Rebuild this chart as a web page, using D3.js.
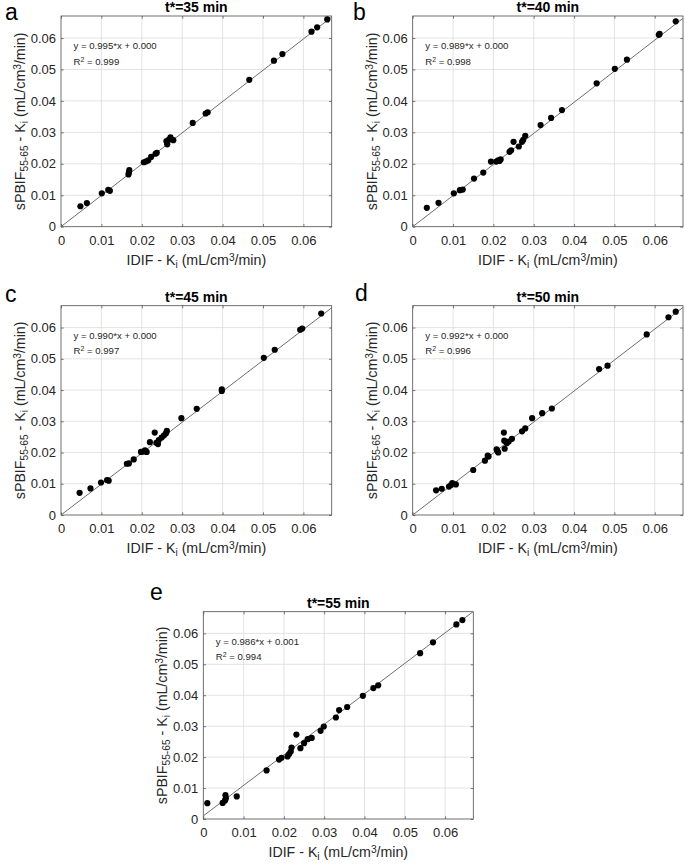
<!DOCTYPE html>
<html><head><meta charset="utf-8">
<script src="https://cdn.jsdelivr.net/npm/d3@7"></script>
<style>html,body{margin:0;padding:0;background:#fff}</style>
</head><body>
<svg id="chart" width="685" height="867" xmlns="http://www.w3.org/2000/svg"></svg>
<script>
// ---------- data ----------
const tickValues = [0, 0.01, 0.02, 0.03, 0.04, 0.05, 0.06];
const tickLabels = ["0", "0.01", "0.02", "0.03", "0.04", "0.05", "0.06"];
const axisMax = 0.067;

const panelLetters = ["a", "b", "c", "d", "e"];
const panelTitles = ["t*=35 min", "t*=40 min", "t*=45 min", "t*=50 min", "t*=55 min"];
const fitSlopes = [0.995, 0.989, 0.990, 0.992, 0.986];
const fitIntercepts = [0.000, 0.000, 0.000, 0.000, 0.001];
const fitSlopeText = ["0.995", "0.989", "0.990", "0.992", "0.986"];
const fitInterceptText = ["0.000", "0.000", "0.000", "0.000", "0.001"];
const fitR2Text = ["0.999", "0.998", "0.997", "0.996", "0.994"];

const idif35 = [0.0048,0.0064,0.0101,0.0117,0.0121,0.0167,0.0168,0.0169,0.0205,0.0211,0.0216,0.0223,0.0234,0.0237,0.0261,0.0263,0.0267,0.0271,0.0278,0.0326,0.0358,0.0363,0.0466,0.0527,0.0548,0.0620,0.0634,0.0659];
const pbif35 = [0.0065,0.0075,0.0106,0.0117,0.0114,0.0166,0.0172,0.0180,0.0205,0.0208,0.0211,0.0222,0.0232,0.0235,0.0272,0.0262,0.0277,0.0284,0.0275,0.0330,0.0360,0.0364,0.0467,0.0528,0.0549,0.0620,0.0634,0.0659];

const idif40 = [0.0035,0.0064,0.0102,0.0117,0.0124,0.0152,0.0175,0.0194,0.0207,0.0212,0.0215,0.0218,0.0240,0.0244,0.0250,0.0263,0.0271,0.0274,0.0279,0.0317,0.0343,0.0370,0.0456,0.0501,0.0531,0.0610,0.0612,0.0652];
const pbif40 = [0.0060,0.0076,0.0106,0.0116,0.0118,0.0153,0.0172,0.0207,0.0207,0.0211,0.0209,0.0214,0.0238,0.0243,0.0270,0.0255,0.0270,0.0276,0.0289,0.0323,0.0346,0.0371,0.0456,0.0502,0.0531,0.0610,0.0613,0.0653];

const idif45 = [0.0046,0.0073,0.0099,0.0114,0.0118,0.0163,0.0168,0.0180,0.0198,0.0204,0.0208,0.0212,0.0220,0.0232,0.0236,0.0240,0.0242,0.0249,0.0255,0.0260,0.0262,0.0298,0.0336,0.0398,0.0398,0.0502,0.0529,0.0592,0.0597,0.0644];
const pbif45 = [0.0071,0.0085,0.0104,0.0112,0.0110,0.0164,0.0165,0.0178,0.0202,0.0203,0.0207,0.0202,0.0233,0.0264,0.0231,0.0227,0.0240,0.0248,0.0255,0.0262,0.0269,0.0310,0.0340,0.0397,0.0402,0.0503,0.0529,0.0593,0.0597,0.0645];

const idif50 = [0.0058,0.0072,0.0090,0.0095,0.0098,0.0107,0.0150,0.0179,0.0186,0.0188,0.0208,0.0210,0.0212,0.0226,0.0227,0.0228,0.0233,0.0238,0.0246,0.0271,0.0279,0.0296,0.0321,0.0345,0.0462,0.0483,0.0580,0.0634,0.0652];
const pbif50 = [0.0079,0.0084,0.0091,0.0096,0.0102,0.0098,0.0144,0.0174,0.0190,0.0187,0.0210,0.0205,0.0200,0.0264,0.0238,0.0212,0.0230,0.0235,0.0244,0.0268,0.0277,0.0310,0.0326,0.0341,0.0467,0.0478,0.0578,0.0633,0.0651];

const idif55 = [0.0010,0.0048,0.0054,0.0055,0.0056,0.0083,0.0157,0.0188,0.0194,0.0209,0.0213,0.0217,0.0219,0.0231,0.0241,0.0250,0.0259,0.0269,0.0291,0.0299,0.0329,0.0337,0.0357,0.0396,0.0422,0.0434,0.0538,0.0570,0.0628,0.0643];
const pbif55 = [0.0051,0.0052,0.0060,0.0077,0.0067,0.0073,0.0157,0.0192,0.0198,0.0202,0.0210,0.0218,0.0231,0.0273,0.0229,0.0245,0.0258,0.0262,0.0285,0.0299,0.0328,0.0352,0.0362,0.0398,0.0423,0.0432,0.0536,0.0571,0.0629,0.0643];

const xSeries = [idif35, idif40, idif45, idif50, idif55];
const ySeries = [pbif35, pbif40, pbif45, pbif50, pbif55];

const xLabelParts = [["IDIF - K", ""], ["i", "sub"], [" (mL/cm", ""], ["3", "sup"], ["/min)", ""]];
const yLabelParts = [["sPBIF", ""], ["55-65", "sub"], [" - K", ""], ["i", "sub"], [" (mL/cm", ""], ["3", "sup"], ["/min)", ""]];

// ---------- layout ----------
const layout = [
  {x: 61,    y: 16,    w: 270.7, h: 210.7, lx: 5,   ly: 19.5},
  {x: 412.7, y: 16,    w: 270.3, h: 210.7, lx: 353, ly: 19.5},
  {x: 61,    y: 305.7, w: 270.7, h: 209.3, lx: 5,   ly: 302},
  {x: 412.7, y: 305.7, w: 270.3, h: 209.3, lx: 355, ly: 301},
  {x: 203.3, y: 611.7, w: 270,   h: 207.3, lx: 150, ly: 600}
];

const FONT = "'Liberation Sans', Arial, Helvetica, sans-serif";
const AX = "#262626";
const svg = d3.select("#chart").style("font-family", FONT);

function addParts(textSel, parts, baseSize) {
  parts.forEach(([t, kind]) => {
    const ts = textSel.append("tspan").text(t);
    if (kind === "sub") ts.attr("font-size", baseSize * 0.72).attr("baseline-shift", "-28%");
    if (kind === "sup") ts.attr("font-size", baseSize * 0.72).attr("baseline-shift", "45%");
  });
}

layout.forEach((L, i) => {
  const g = svg.append("g").attr("transform", `translate(${L.x},${L.y})`);
  const x = d3.scaleLinear().domain([0, axisMax]).range([0, L.w]);
  const y = d3.scaleLinear().domain([0, axisMax]).range([L.h, 0]);

  // grid
  const grid = g.append("g");
  grid.selectAll("line.gx").data(tickValues.slice(1)).join("line")
    .attr("class", "gx")
    .attr("x1", d => x(d)).attr("x2", d => x(d)).attr("y1", 0).attr("y2", L.h)
    .attr("stroke", "#dcdcdc").attr("stroke-width", 0.8);
  grid.selectAll("line.gy").data(tickValues.slice(1)).join("line")
    .attr("class", "gy")
    .attr("y1", d => y(d)).attr("y2", d => y(d)).attr("x1", 0).attr("x2", L.w)
    .attr("stroke", "#dcdcdc").attr("stroke-width", 0.8);

  // axes with inward ticks on all sides
  const fmt = d => tickLabels[tickValues.indexOf(d)];
  const tickLen = 2.7;
  const bottom = g.append("g").attr("transform", `translate(0,${L.h})`)
    .call(d3.axisBottom(x).tickValues(tickValues).tickFormat(fmt).tickSizeInner(-tickLen).tickSizeOuter(0).tickPadding(6));
  const left = g.append("g")
    .call(d3.axisLeft(y).tickValues(tickValues).tickFormat(fmt).tickSizeInner(-tickLen).tickSizeOuter(0).tickPadding(5));
  const top = g.append("g")
    .call(d3.axisTop(x).tickValues(tickValues).tickFormat("").tickSizeInner(-tickLen).tickSizeOuter(0));
  const right = g.append("g").attr("transform", `translate(${L.w},0)`)
    .call(d3.axisRight(y).tickValues(tickValues).tickFormat("").tickSizeInner(-tickLen).tickSizeOuter(0));
  [bottom, left, top, right].forEach(a => {
    a.select(".domain").remove();
    a.selectAll(".tick line").attr("stroke", AX).attr("stroke-width", 0.6);
    a.selectAll("text").attr("fill", AX).attr("font-size", 13).attr("font-family", FONT);
  });
  bottom.selectAll("text").attr("dy", "0.95em");
  g.append("rect").attr("x", 0).attr("y", 0).attr("width", L.w).attr("height", L.h)
    .attr("fill", "none").attr("stroke", "#4d4d4d").attr("stroke-width", 0.8);

  // clip
  const cid = "clip" + i;
  g.append("clipPath").attr("id", cid).append("rect").attr("width", L.w).attr("height", L.h);

  // fit line
  const x0 = 0, x1 = axisMax;
  g.append("line").attr("clip-path", `url(#${cid})`)
    .attr("x1", x(x0)).attr("y1", y(fitSlopes[i] * x0 + fitIntercepts[i]))
    .attr("x2", x(x1)).attr("y2", y(fitSlopes[i] * x1 + fitIntercepts[i]))
    .attr("stroke", "#6e6e6e").attr("stroke-width", 1);

  // points
  const pts = xSeries[i].map((v, k) => [v, ySeries[i][k]]);
  g.append("g").selectAll("circle").data(pts).join("circle")
    .attr("cx", d => x(d[0])).attr("cy", d => y(d[1])).attr("r", 3.1).attr("fill", "#000");

  // annotation
  g.append("text").attr("x", 12.5).attr("y", 33).attr("font-size", 9.6).attr("fill", AX)
    .text(`y = ${fitSlopeText[i]}*x + ${fitInterceptText[i]}`);
  const r2 = g.append("text").attr("x", 12.5).attr("y", 48.5).attr("font-size", 9.6).attr("fill", AX);
  addParts(r2, [["R", ""], ["2", "sup"], [" = " + fitR2Text[i], ""]], 9.6);

  // title
  g.append("text").attr("x", L.w / 2).attr("y", -3.8).attr("text-anchor", "middle")
    .attr("font-size", 14).attr("font-weight", "bold").attr("fill", "#000").text(panelTitles[i]);

  // x label
  const xl = g.append("text").attr("x", L.w / 2).attr("y", L.h + 38).attr("text-anchor", "middle")
    .attr("font-size", 14.2).attr("fill", AX);
  addParts(xl, xLabelParts, 14.2);

  // y label
  const yl = g.append("text").attr("transform", `translate(-36,${L.h / 2}) rotate(-90)`)
    .attr("text-anchor", "middle").attr("font-size", 14.2).attr("fill", AX);
  addParts(yl, yLabelParts, 14.2);

  // panel letter
  svg.append("text").attr("x", L.lx).attr("y", L.ly).attr("font-size", 23).attr("fill", "#000")
    .text(panelLetters[i]);
});
</script>
</body></html>
